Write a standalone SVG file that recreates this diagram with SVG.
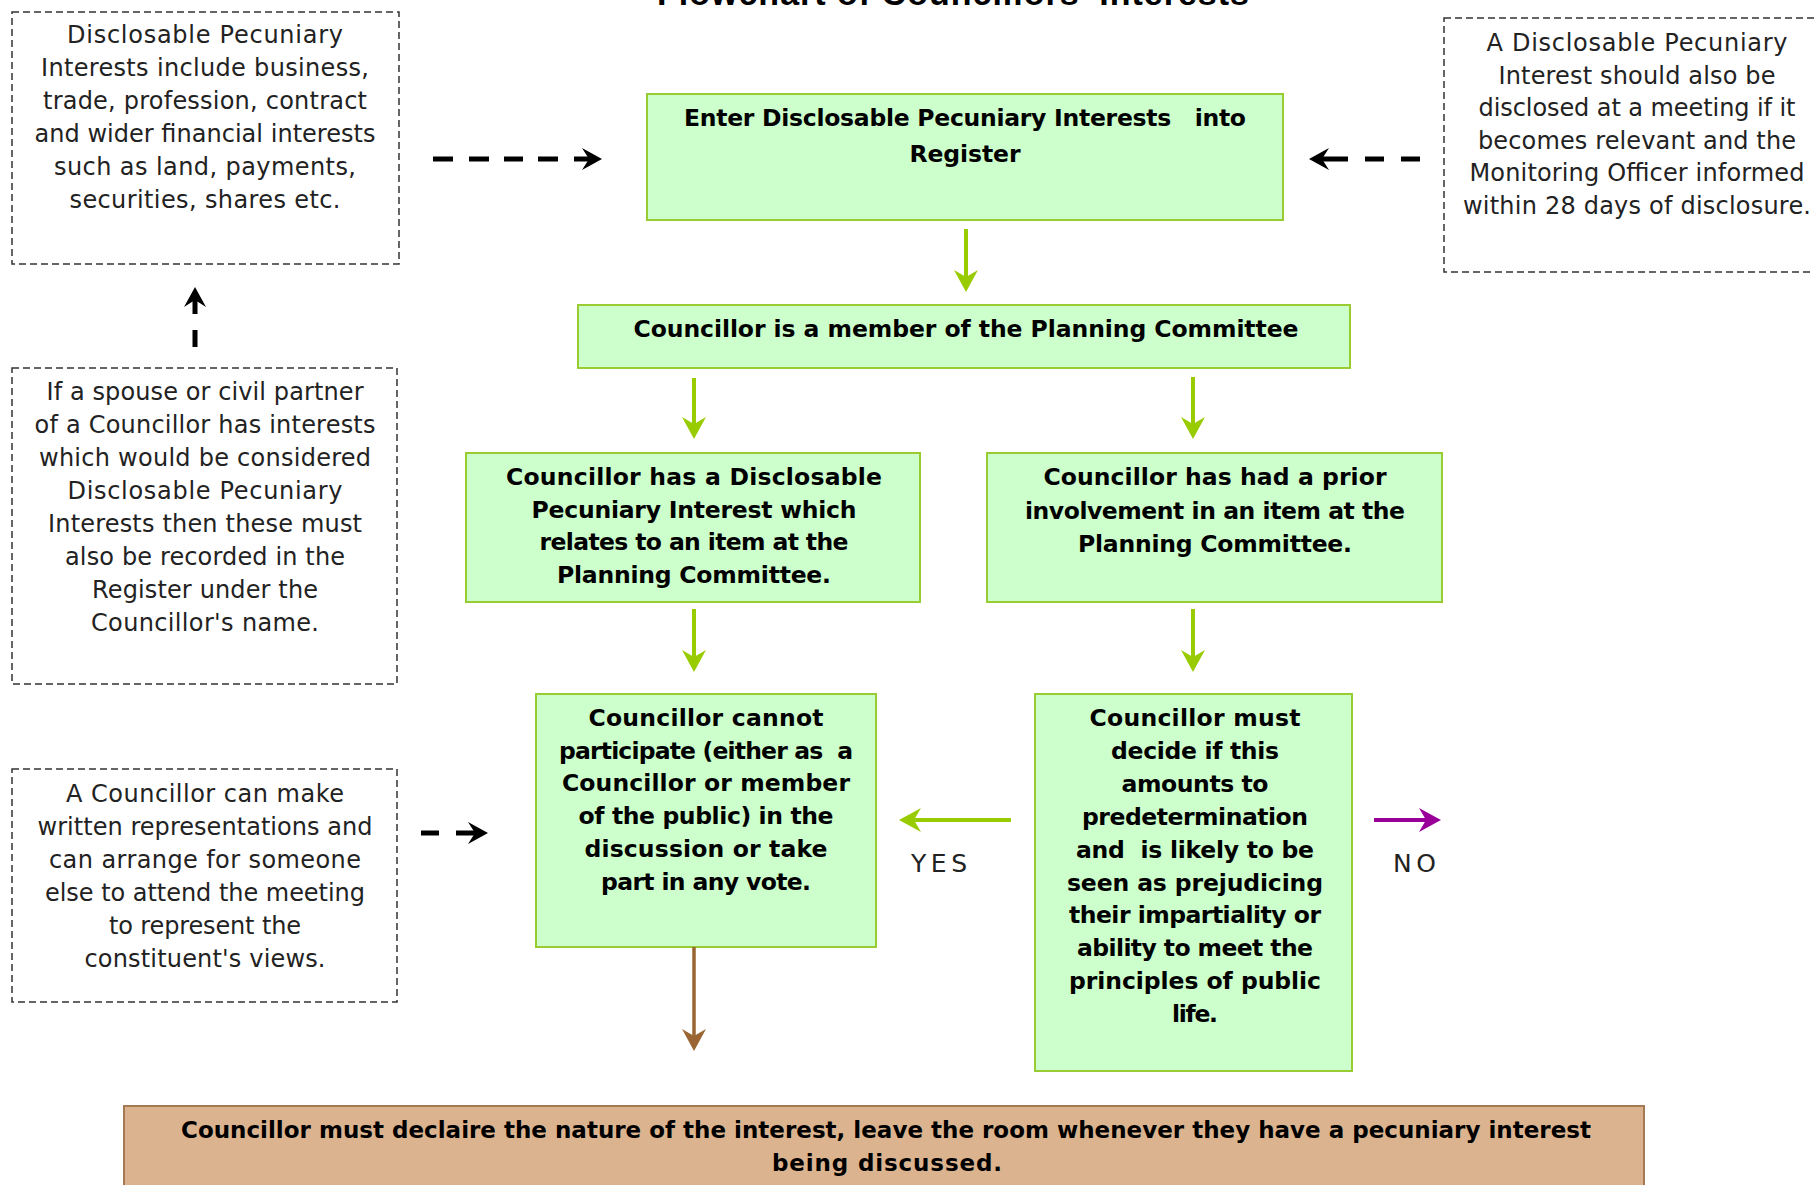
<svg xmlns="http://www.w3.org/2000/svg" width="1814" height="1185" viewBox="0 0 1814 1185">
<style>
.note{fill:#ffffff;stroke:#333333;stroke-width:1.5;stroke-dasharray:7 4}
.step{fill:#ccffcc;stroke:#99cc33;stroke-width:2}
.final{fill:#dbb48f;stroke:#a47a52;stroke-width:2}
.nt{font-family:"DejaVu Sans",Verdana,sans-serif;font-size:24px;fill:#222222;text-anchor:middle}
.bt{font-family:"DejaVu Sans","Liberation Sans",sans-serif;font-weight:bold;font-size:23.5px;fill:#000000;text-anchor:middle}
.lbl{font-family:"DejaVu Sans",Verdana,sans-serif;font-size:25px;fill:#222222;text-anchor:middle}
.ttl{font-family:"Liberation Sans",Arial,sans-serif;font-weight:bold;font-size:34px;fill:#000000;text-anchor:middle}
.cg{stroke:#99cc00;stroke-width:4;fill:none}
.cb{stroke:#996633;stroke-width:3.5;fill:none}
.cp{stroke:#990099;stroke-width:4;fill:none}
.ck{stroke:#000000;stroke-width:5;fill:none}
</style>
<defs>
<marker id="mg" markerUnits="userSpaceOnUse" viewBox="-23 -13 24 26" markerWidth="24" markerHeight="26" refX="-12" refY="0" orient="auto"><path d="M0,0 L-22,-12 L-15,0 L-22,12 Z" fill="#99cc00"/></marker>
<marker id="mb" markerUnits="userSpaceOnUse" viewBox="-23 -13 24 26" markerWidth="24" markerHeight="26" refX="-12" refY="0" orient="auto"><path d="M0,0 L-22,-12 L-15,0 L-22,12 Z" fill="#996633"/></marker>
<marker id="mp" markerUnits="userSpaceOnUse" viewBox="-23 -13 24 26" markerWidth="24" markerHeight="26" refX="-12" refY="0" orient="auto"><path d="M0,0 L-22,-12 L-15,0 L-22,12 Z" fill="#990099"/></marker>
<marker id="mk" markerUnits="userSpaceOnUse" viewBox="-21 -12 22 24" markerWidth="22" markerHeight="24" refX="-10" refY="0" orient="auto"><path d="M0,0 L-20,-11 L-13,0 L-20,11 Z" fill="#000000"/></marker>
</defs>

<g id="title"><text class="ttl" x="953" y="5" textLength="592">Flowchart of Councillors' Interests</text></g>

<g id="note-dpi-types">
<rect class="note" x="12" y="12" width="387" height="252"/>
<text class="nt" x="205" y="43" textLength="276">Disclosable Pecuniary</text>
<text class="nt" x="205" y="76" textLength="328">Interests include business,</text>
<text class="nt" x="205" y="109" textLength="324">trade, profession, contract</text>
<text class="nt" x="205" y="142" textLength="341">and wider financial interests</text>
<text class="nt" x="205" y="175" textLength="302">such as land, payments,</text>
<text class="nt" x="205" y="208" textLength="271">securities, shares etc.</text>
</g>

<g id="note-meeting">
<rect class="note" x="1444" y="18" width="375" height="254"/>
<text class="nt" x="1637" y="51" textLength="301">A Disclosable Pecuniary</text>
<text class="nt" x="1637" y="83.5" textLength="277">Interest should also be</text>
<text class="nt" x="1637" y="116" textLength="317">disclosed at a meeting if it</text>
<text class="nt" x="1637" y="148.5" textLength="318">becomes relevant and the</text>
<text class="nt" x="1637" y="181" textLength="335">Monitoring Officer informed</text>
<text class="nt" x="1637" y="213.5" textLength="348">within 28 days of disclosure.</text>
</g>

<g id="note-spouse">
<rect class="note" x="12" y="368" width="385" height="316"/>
<text class="nt" x="205" y="400" textLength="317">If a spouse or civil partner</text>
<text class="nt" x="205" y="433" textLength="341">of a Councillor has interests</text>
<text class="nt" x="205" y="466" textLength="332">which would be considered</text>
<text class="nt" x="205" y="499" textLength="275">Disclosable Pecuniary</text>
<text class="nt" x="205" y="532" textLength="314">Interests then these must</text>
<text class="nt" x="205" y="565" textLength="280">also be recorded in the</text>
<text class="nt" x="205" y="598" textLength="226">Register under the</text>
<text class="nt" x="205" y="631" textLength="228">Councillor's name.</text>
</g>

<g id="note-representations">
<rect class="note" x="12" y="769" width="385" height="233"/>
<text class="nt" x="205" y="802" textLength="278">A Councillor can make</text>
<text class="nt" x="205" y="835" textLength="335">written representations and</text>
<text class="nt" x="205" y="868" textLength="312">can arrange for someone</text>
<text class="nt" x="205" y="901" textLength="320">else to attend the meeting</text>
<text class="nt" x="205" y="934" textLength="192">to represent the</text>
<text class="nt" x="205" y="967" textLength="241">constituent's views.</text>
</g>

<g id="register">
<rect class="step" x="647" y="94" width="636" height="126"/>
<text class="bt" x="965" y="126" textLength="562" xml:space="preserve">Enter Disclosable Pecuniary Interests   into</text>
<text class="bt" x="965" y="162" textLength="111">Register</text>
</g>

<g id="planning-member">
<rect class="step" x="578" y="305" width="772" height="63"/>
<text class="bt" x="966" y="337" textLength="665">Councillor is a member of the Planning Committee</text>
</g>

<g id="has-dpi">
<rect class="step" x="466" y="453" width="454" height="149"/>
<text class="bt" x="694" y="485" textLength="376">Councillor has a Disclosable</text>
<text class="bt" x="694" y="517.5" textLength="325">Pecuniary Interest which</text>
<text class="bt" x="694" y="550" textLength="309">relates to an item at the</text>
<text class="bt" x="694" y="583" textLength="274">Planning Committee.</text>
</g>

<g id="prior-involvement">
<rect class="step" x="987" y="453" width="455" height="149"/>
<text class="bt" x="1215" y="485" textLength="343">Councillor has had a prior</text>
<text class="bt" x="1215" y="518.5" textLength="380">involvement in an item at the</text>
<text class="bt" x="1215" y="552" textLength="274">Planning Committee.</text>
</g>

<g id="cannot-participate">
<rect class="step" x="536" y="694" width="340" height="253"/>
<text class="bt" x="706" y="726" textLength="235">Councillor cannot</text>
<text class="bt" x="706" y="758.7" textLength="294" xml:space="preserve">participate (either as  a</text>
<text class="bt" x="706" y="791.4" textLength="288">Councillor or member</text>
<text class="bt" x="706" y="824.1" textLength="255">of the public) in the</text>
<text class="bt" x="706" y="856.8" textLength="243">discussion or take</text>
<text class="bt" x="706" y="889.5" textLength="210">part in any vote.</text>
</g>

<g id="must-decide">
<rect class="step" x="1035" y="694" width="317" height="377"/>
<text class="bt" x="1195" y="726" textLength="211">Councillor must</text>
<text class="bt" x="1195" y="758.9" textLength="168">decide if this</text>
<text class="bt" x="1195" y="791.8" textLength="147">amounts to</text>
<text class="bt" x="1195" y="824.7" textLength="226">predetermination</text>
<text class="bt" x="1195" y="857.6" textLength="238" xml:space="preserve">and  is likely to be</text>
<text class="bt" x="1195" y="890.5" textLength="256">seen as prejudicing</text>
<text class="bt" x="1195" y="923.4" textLength="252">their impartiality or</text>
<text class="bt" x="1195" y="956.3" textLength="236">ability to meet the</text>
<text class="bt" x="1195" y="989.2" textLength="252">principles of public</text>
<text class="bt" x="1195" y="1022.1" textLength="46">life.</text>
</g>

<g id="declare">
<rect class="final" x="124" y="1106" width="1520" height="100"/>
<text class="bt" x="886" y="1138" textLength="1410" style="font-size:23px">Councillor must declaire the nature of the interest, leave the room whenever they have a pecuniary interest</text>
<text class="bt" x="887" y="1171" textLength="230" style="font-size:23px">being discussed.</text>
</g>

<g id="connectors">
<path class="ck" d="M433,159 H453 M469,159 H489 M504,159 H523 M538,159 H558 M574,159 H592" marker-end="url(#mk)"/>
<path class="ck" d="M1420,159 H1401 M1384,159 H1365 M1348,159 H1319" marker-end="url(#mk)"/>
<path class="ck" d="M195,347 V330 M195,314 V297" marker-end="url(#mk)"/>
<path class="ck" d="M421,833 H439 M456,833 H478" marker-end="url(#mk)"/>
<path class="cg" d="M966,229 V280" marker-end="url(#mg)"/>
<path class="cg" d="M694,378 V427" marker-end="url(#mg)"/>
<path class="cg" d="M1193,377 V427" marker-end="url(#mg)"/>
<path class="cg" d="M694,609 V660" marker-end="url(#mg)"/>
<path class="cg" d="M1193,609 V660" marker-end="url(#mg)"/>
<path class="cg" d="M1011,820 H911" marker-end="url(#mg)"/>
<path class="cp" d="M1374,820 H1429" marker-end="url(#mp)"/>
<path class="cb" d="M694,947 V1039" marker-end="url(#mb)"/>
<text class="lbl" x="939" y="872" textLength="56">YES</text>
<text class="lbl" x="1414.5" y="872" textLength="43">NO</text>
</g>
</svg>
